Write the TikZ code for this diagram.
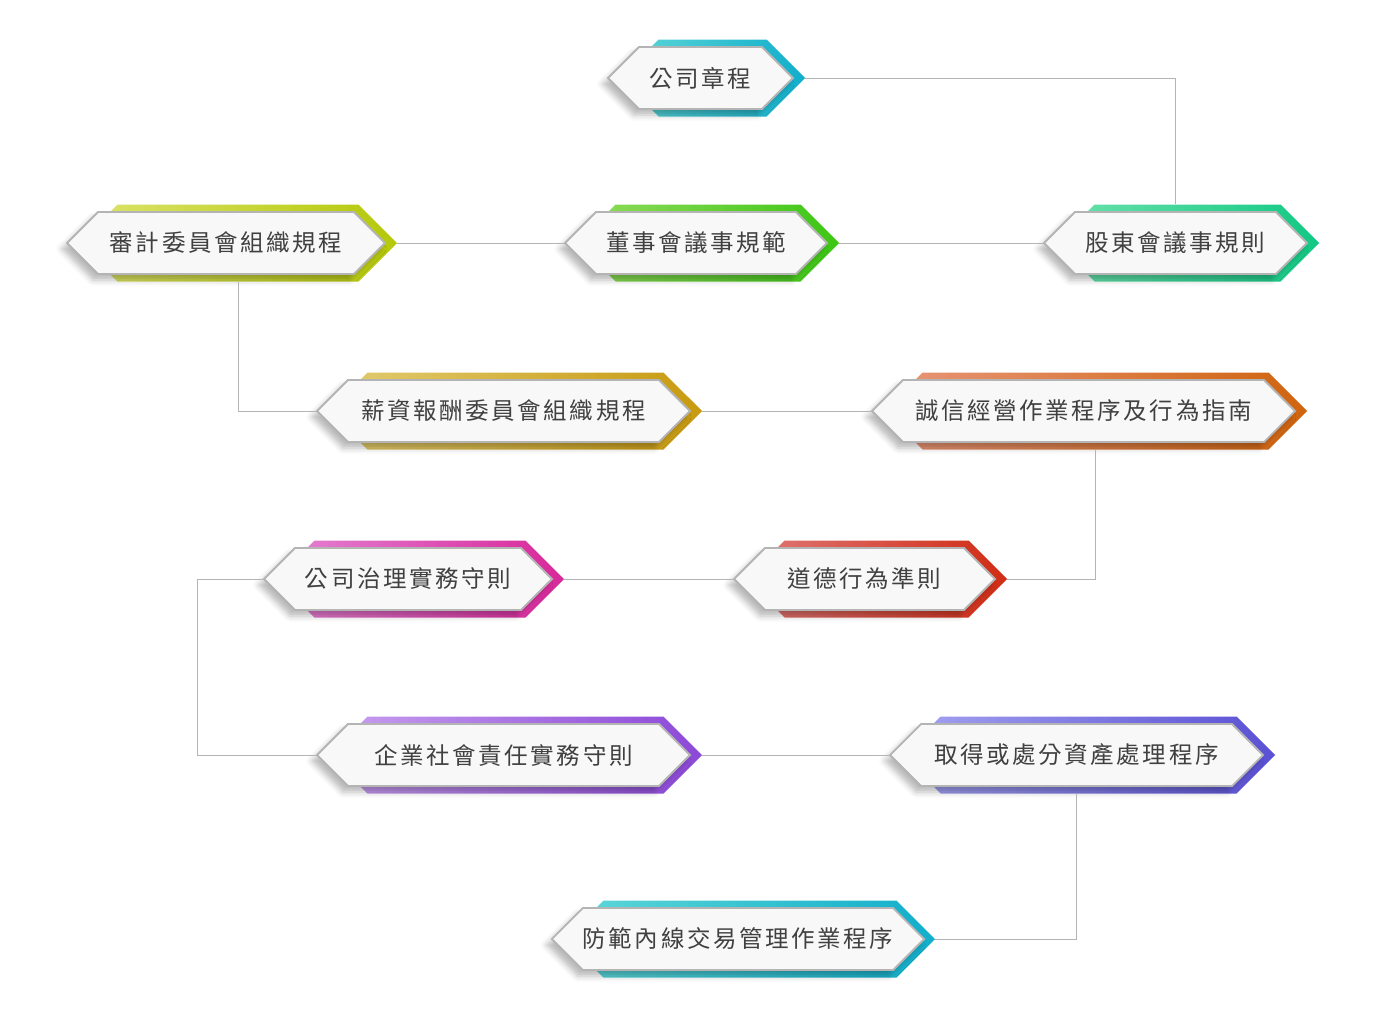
\documentclass[tikz,border=0pt]{standalone}
\usepackage{fontspec}
\newfontfamily\cjk[LetterSpace=11]{Noto Sans CJK TC}
\usetikzlibrary{shapes.symbols, shadows.blur}

\definecolor{linegrey}{HTML}{B4B4B4}
\definecolor{boxfill}{HTML}{F8F8F8}
\definecolor{textgrey}{HTML}{404040}
\definecolor{cyanA}{HTML}{5FD8D8}  \definecolor{cyanB}{HTML}{12AECB}
\definecolor{limeA}{HTML}{DDE46C}  \definecolor{limeB}{HTML}{B5C80A}
\definecolor{greenA}{HTML}{92DC5C} \definecolor{greenB}{HTML}{3CC614}
\definecolor{mintA}{HTML}{6CE2AC}  \definecolor{mintB}{HTML}{12C884}
\definecolor{goldA}{HTML}{E2CC72}  \definecolor{goldB}{HTML}{C89A10}
\definecolor{orangeA}{HTML}{E8967A} \definecolor{orangeB}{HTML}{D0640E}
\definecolor{pinkA}{HTML}{E484D4}  \definecolor{pinkB}{HTML}{D8289A}
\definecolor{redA}{HTML}{E07878}   \definecolor{redB}{HTML}{D02C14}
\definecolor{purpleA}{HTML}{C8A0EE} \definecolor{purpleB}{HTML}{8C48D8}
\definecolor{blueA}{HTML}{A4A4F0}  \definecolor{blueB}{HTML}{5A50D4}

\begin{document}
\begin{tikzpicture}[x=1pt, y=-1pt,
    plate/.style={
        signal, signal to=west and east, signal pointer angle=90,
        inner sep=0pt, minimum height=62pt, draw=linegrey, line width=1.8pt,
        fill=boxfill, text=textgrey, font=\cjk\fontsize{23.5}{24}\selectfont,
        blur shadow={shadow xshift=-5pt, shadow yshift=-6pt,
            shadow blur radius=6pt, shadow opacity=28}
    },
    back/.style={
        signal, signal to=west and east, signal pointer angle=90,
        inner sep=0pt, minimum height=77pt, xshift=12pt
    },
    link/.style={draw=linegrey, line width=0.9pt}
]
\useasboundingbox (0,0) rectangle (1400,1034);

% Row 1
\node[back, minimum width=185pt, left color=cyanA, right color=cyanB] (charter-bg) at (700.5,78) {};
\node[plate, minimum width=185pt] (charter) at (700.5,78) {公司章程};

% Row 2
\node[back, minimum width=318pt, left color=limeA, right color=limeB] (audit-bg) at (226,243) {};
\node[plate, minimum width=318pt] (audit) at (226,243) {審計委員會組織規程};
\node[back, minimum width=262pt, left color=greenA, right color=greenB] (board-bg) at (696,243) {};
\node[plate, minimum width=262pt] (board) at (696,243) {董事會議事規範};
\node[back, minimum width=263pt, left color=mintA, right color=mintB] (agm-bg) at (1175.5,243) {};
\node[plate, minimum width=263pt] (agm) at (1175.5,243) {股東會議事規則};

% Row 3
\node[back, minimum width=373pt, left color=goldA, right color=goldB] (pay-bg) at (503.5,411) {};
\node[plate, minimum width=373pt] (pay) at (503.5,411) {薪資報酬委員會組織規程};
\node[back, minimum width=423pt, left color=orangeA, right color=orangeB] (ethics-bg) at (1083.5,411) {};
\node[plate, minimum width=423pt] (ethics) at (1083.5,411) {誠信經營作業程序及行為指南};

% Row 4
\node[back, minimum width=288pt, left color=pinkA, right color=pinkB] (gov-bg) at (408,579) {};
\node[plate, minimum width=288pt] (gov) at (408,579) {公司治理實務守則};
\node[back, minimum width=261pt, left color=redA, right color=redB] (conduct-bg) at (864.5,579) {};
\node[plate, minimum width=261pt] (conduct) at (864.5,579) {道德行為準則};

% Row 5
\node[back, minimum width=373pt, left color=purpleA, right color=purpleB] (csr-bg) at (503.5,755) {};
\node[plate, minimum width=373pt] (csr) at (503.5,755) {企業社會責任實務守則};
\node[back, minimum width=373pt, left color=blueA, right color=blueB] (asset-bg) at (1076.5,755) {};
\node[plate, minimum width=373pt] (asset) at (1076.5,755) {取得或處分資產處理程序};

% Row 6
\node[back, minimum width=370pt, left color=cyanA, right color=cyanB] (insider-bg) at (738,939) {};
\node[plate, minimum width=370pt] (insider) at (738,939) {防範內線交易管理作業程序};

% Connectors
\coordinate (turn) at (197,579);
\draw[link] (charter-bg.east) -| (agm |- agm-bg.north);
\draw[link] (audit-bg.east) -- (board.west);
\draw[link] (board-bg.east) -- (agm.west);
\draw[link] (audit-bg.south) |- (pay.west);
\draw[link] (pay-bg.east) -- (ethics.west);
\draw[link] (ethics-bg.south) |- (conduct-bg.east);
\draw[link] (conduct.west) -- (gov-bg.east);
\draw[link] (gov.west) -- (turn) |- (csr.west);
\draw[link] (csr-bg.east) -- (asset.west);
\draw[link] (asset |- asset-bg.south) |- (insider-bg.east);

\end{tikzpicture}
\end{document}
